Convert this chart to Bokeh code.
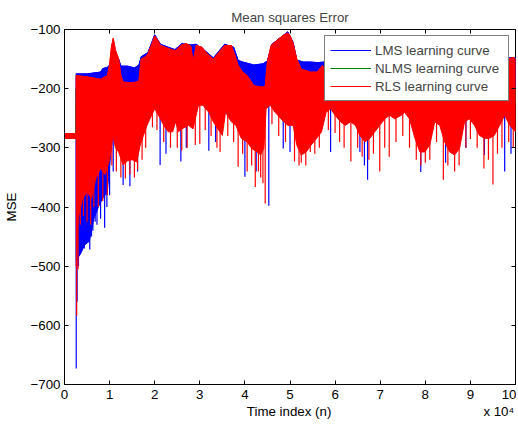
from bokeh.plotting import figure
from bokeh.models import Range1d, FixedTicker, LinearAxis, CustomJSTickFormatter
from bokeh.embed import file_html
from bokeh.resources import INLINE

FONT = "Liberation Sans"
FS = "13.3px"

title_text = "Mean squares Error"
x_label = "Time index (n)"
x_multiplier = "x 10\u2074"
y_label = "MSE"
x_ticks = [0, 1, 2, 3, 4, 5, 6, 7, 8, 9, 10]
y_ticks = [-700, -600, -500, -400, -300, -200, -100]
names = ["LMS learning curve", "NLMS learning curve", "RLS learning curve"]
colors = ["#0000ff", "#008000", "#ff0000"]

# time index in units of 1e4; warm-up part before adaptation starts
pre_x = [0.0, 0.26]
pre_hi = [-276, -276]
pre_lo = [-284, -284]

# ---- RLS envelope ----
rls_hi_x = [0.26, 0.5, 0.8, 0.95, 1.0, 1.04, 1.08, 1.13, 1.2, 1.25, 1.3, 1.5, 1.65, 1.7, 1.8, 1.85,
            1.95, 2.0, 2.05, 2.13, 2.3, 2.45, 2.6, 2.7, 2.8, 2.85, 2.92, 3.05, 3.15, 3.3, 3.45, 3.55,
            3.7, 3.78, 3.85, 3.95, 4.05, 4.2, 4.35, 4.45, 4.5, 4.58, 4.7, 4.85, 4.95, 5.0, 5.07, 5.15,
            5.25, 5.45, 5.6, 5.72, 5.8, 6.5, 7.5, 8.5, 9.5, 9.85, 9.95, 10.0]
rls_hi_y = [-178, -180, -184, -178, -160, -130, -115, -135, -150, -178, -189, -190, -188, -150, -146, -141,
            -122, -111, -116, -127, -132, -136, -126, -124, -128, -155, -127, -130, -140, -150, -136, -127,
            -127, -144, -161, -172, -178, -195, -197, -197, -155, -127, -119, -110, -106, -110, -124, -150,
            -167, -172, -172, -161, -175, -180, -175, -180, -170, -150, -147, -150]
rls_lo_x = [0.26, 0.3, 0.4, 0.5, 0.6, 0.7, 0.8, 0.9, 1.0, 1.07, 1.13, 1.2, 1.3, 1.4, 1.5, 1.6,
            1.68, 1.75, 1.83, 1.9, 2.0, 2.12, 2.2, 2.3, 2.4, 2.46, 2.53, 2.6, 2.75, 2.85, 2.97, 3.07,
            3.2, 3.3, 3.4, 3.5, 3.57, 3.7, 3.8, 3.92, 4.05, 4.15, 4.27, 4.35, 4.42, 4.47, 4.56, 4.67,
            4.8, 4.95, 5.07, 5.15, 5.25, 5.36, 5.47, 5.59, 5.7, 5.8, 5.9, 6.0, 6.12, 6.23, 6.34, 6.45,
            6.55, 6.66, 6.77, 6.88, 6.99, 7.1, 7.21, 7.32, 7.47, 7.54, 7.65, 7.77, 7.88, 7.99, 8.1, 8.21,
            8.32, 8.43, 8.54, 8.65, 8.76, 8.87, 8.98, 9.09, 9.2, 9.31, 9.42, 9.53, 9.65, 9.76, 9.87, 10.0]
rls_lo_y = [-500, -420, -385, -375, -385, -350, -335, -345, -320, -279, -300, -307, -329, -322, -320, -324,
            -295, -279, -262, -250, -234, -250, -262, -273, -273, -256, -273, -268, -262, -268, -228, -228,
            -240, -256, -268, -279, -240, -256, -262, -284, -290, -301, -307, -312, -301, -234, -228, -240,
            -251, -262, -262, -295, -312, -307, -295, -284, -273, -240, -234, -245, -256, -262, -256, -262,
            -279, -290, -284, -273, -262, -251, -245, -251, -245, -240, -251, -284, -307, -307, -295, -256,
            -262, -290, -307, -312, -301, -256, -251, -262, -279, -284, -284, -279, -262, -245, -262, -273]
rls_spike_x = [0.27, 0.30, 0.35, 0.42, 0.50, 0.58, 0.65, 0.75, 0.85, 0.95, 1.05, 1.15, 1.25, 1.35, 1.45,
               1.55, 1.62, 1.72, 1.80, 1.95, 2.05, 2.20, 2.35, 2.50, 2.60, 2.72, 2.90, 3.00, 3.12, 3.25,
               3.38, 3.45, 3.62, 3.75, 3.85, 3.95, 4.05, 4.15, 4.23, 4.30, 4.35, 4.40, 4.45, 4.60, 4.75,
               4.90, 5.10, 5.20, 5.25, 5.35, 5.45, 5.55, 5.65, 5.85, 6.00, 6.10, 6.20, 6.35, 6.50, 6.60,
               6.75, 6.85, 6.99, 7.10, 7.20, 7.35, 7.50, 7.65, 7.80, 7.90, 8.00, 8.10, 8.25, 8.40, 8.50,
               8.65, 8.75, 8.90, 9.00, 9.15, 9.30, 9.40, 9.50, 9.60, 9.70, 9.85, 9.95]
rls_spike_y = [-584, -505, -430, -415, -425, -430, -400, -400, -390, -380, -330, -340, -350, -352, -345,
               -350, -337, -320, -300, -265, -270, -290, -300, -300, -305, -300, -295, -293, -270, -280,
               -300, -307, -280, -290, -332, -310, -340, -330, -366, -340, -350, -360, -394, -260, -280,
               -290, -323, -330, -325, -330, -307, -310, -300, -270, -275, -290, -300, -323, -300, -315,
               -320, -310, -340, -300, -315, -290, -280, -300, -320, -330, -325, -320, -290, -354, -330,
               -340, -330, -300, -285, -300, -335, -320, -362, -310, -300, -290, -300]

# ---- LMS envelope ----
lms_hi_x = [0.26, 0.5, 0.8, 0.85, 0.95, 1.0, 1.08, 1.2, 1.25, 1.4, 1.55, 1.65, 1.7, 1.85, 2.0, 2.13,
            2.3, 2.45, 2.6, 2.8, 2.92, 3.15, 3.3, 3.55, 3.75, 3.85, 3.95, 4.2, 4.4, 4.5, 4.6, 4.95,
            5.07, 5.15, 5.3, 5.45, 5.62, 5.75, 6.5, 7.5, 8.5, 9.5, 9.85, 10.0]
lms_hi_y = [-175, -175, -172, -166, -164, -160, -140, -150, -162, -162, -165, -160, -146, -139, -109, -125,
            -130, -134, -124, -126, -125, -138, -148, -125, -130, -152, -155, -160, -158, -153, -125, -104,
            -122, -152, -155, -155, -156, -155, -175, -172, -175, -168, -148, -148]
lms_lo_x = [0.26, 0.35, 0.45, 0.55, 0.65, 0.75, 0.85, 0.95, 1.0, 1.08, 1.2, 2.0, 3.0, 4.0, 5.0, 6.0,
            7.0, 8.0, 9.0, 10.0]
lms_lo_y = [-490, -480, -464, -458, -420, -400, -385, -375, -330, -270, -224, -222, -224, -223, -222, -224,
            -222, -224, -223, -222]
lms_spike_x = [0.26, 0.28, 0.31, 0.33, 0.37, 0.40, 0.44, 0.47, 0.52, 0.56, 0.60, 0.63, 0.68, 0.72, 0.80,
               0.89, 0.94, 1.0, 1.08, 1.3, 1.45, 1.62, 2.12, 2.25, 2.58, 2.7, 3.2, 3.35, 4.0, 4.25,
               4.53, 4.85, 5.0, 5.3, 5.9, 6.55, 6.65, 6.72, 7.9, 8.15, 8.45, 8.9, 9.31, 9.76, 9.9]
lms_spike_y = [-673, -560, -500, -480, -465, -447, -470, -460, -440, -472, -450, -440, -425, -430, -420,
               -435, -400, -380, -340, -363, -365, -340, -329, -310, -323, -300, -305, -290, -349, -340,
               -398, -301, -307, -300, -307, -307, -330, -354, -341, -270, -325, -300, -312, -340, -310]

# ---- NLMS envelope (lies inside the RLS band) ----
nlms_x = [0.26, 2.0, 4.0, 6.0, 8.0, 10.0]
nlms_hi = [-200, -199, -201, -200, -202, -200]
nlms_lo = [-222, -220, -224, -221, -223, -222]

p = figure(width=516, height=427, output_backend="svg", toolbar_location=None,
           x_range=Range1d(0, 10), y_range=Range1d(-700, -100),
           min_border_left=64, min_border_right=1, min_border_top=29, min_border_bottom=43)
p.title.text = title_text
p.title.text_font = FONT
p.title.text_font_size = FS
p.title.text_font_style = "normal"
p.title.align = "center"
p.title.standoff = 9
p.grid.visible = False
p.outline_line_color = "black"
p.outline_line_width = 1
p.background_fill_color = "white"
p.border_fill_color = "white"

for ax in [p.xaxis[0], p.yaxis[0]]:
    ax.major_label_text_font = FONT
    ax.major_label_text_font_size = FS
    ax.major_label_text_color = "black"
    ax.axis_label_text_font = FONT
    ax.axis_label_text_font_size = FS
    ax.axis_label_text_font_style = "normal"
    ax.axis_label_text_color = "black"
    ax.major_tick_in = 4
    ax.major_tick_out = 0
    ax.minor_tick_line_color = None
    ax.axis_line_color = "black"
    ax.major_tick_line_color = "black"
p.xaxis[0].ticker = FixedTicker(ticks=x_ticks)
p.yaxis[0].ticker = FixedTicker(ticks=y_ticks)
p.yaxis[0].axis_label = y_label
p.xaxis[0].major_label_standoff = 5
p.yaxis[0].major_label_standoff = 4
p.yaxis[0].axis_label_standoff = 9

# second row under the x axis: the axis title and the "x 10^4" multiplier
label_pos = [4.98, 9.63]
title_ax = LinearAxis(ticker=FixedTicker(ticks=label_pos),
                      major_label_overrides={label_pos[0]: x_label, label_pos[1]: x_multiplier},
                      major_label_text_font=FONT, major_label_text_font_size=FS,
                      major_label_text_color="black", major_label_standoff=2,
                      major_tick_line_color=None, minor_tick_line_color=None,
                      axis_line_color=None, major_tick_in=0, major_tick_out=0)
p.add_layout(title_ax, "below")

blank = CustomJSTickFormatter(code="return ''")
top_ax = LinearAxis(ticker=FixedTicker(ticks=x_ticks), formatter=blank,
                    major_label_text_font_size="1px", major_label_text_color=None,
                    major_label_standoff=0, major_tick_in=4, major_tick_out=0,
                    minor_tick_line_color=None, axis_line_color=None)
right_ax = LinearAxis(ticker=FixedTicker(ticks=y_ticks), formatter=blank,
                      major_label_text_font_size="1px", major_label_text_color=None,
                      major_label_standoff=0, major_tick_in=4, major_tick_out=0,
                      minor_tick_line_color=None, axis_line_color=None)
p.add_layout(top_ax, "above")
p.add_layout(right_ax, "right")


def band(hx, hy, lx, ly):
    xs = pre_x + hx + lx[::-1] + pre_x[::-1]
    ys = pre_hi + hy + ly[::-1] + pre_lo[::-1]
    return xs, ys


# LMS
xs, ys = band(lms_hi_x, lms_hi_y, lms_lo_x, lms_lo_y)
p.patch(xs, ys, fill_color=colors[0], line_color=colors[0], line_width=1)
p.segment(x0=lms_spike_x, y0=[-200] * len(lms_spike_x), x1=lms_spike_x, y1=lms_spike_y,
          line_color=colors[0], line_width=1.2)
p.line(pre_x + lms_hi_x, pre_hi + lms_hi_y, line_color=colors[0], line_width=1,
       legend_label=names[0])
# NLMS
xs, ys = band(nlms_x, nlms_hi, nlms_x, nlms_lo)
p.patch(xs, ys, fill_color=colors[1], line_color=colors[1], line_width=1)
p.line(pre_x + nlms_x, pre_hi + nlms_hi, line_color=colors[1], line_width=1,
       legend_label=names[1])
# RLS
xs, ys = band(rls_hi_x, rls_hi_y, rls_lo_x, rls_lo_y)
p.patch(xs, ys, fill_color=colors[2], line_color=colors[2], line_width=1)
p.segment(x0=rls_spike_x, y0=[-200] * len(rls_spike_x), x1=rls_spike_x, y1=rls_spike_y,
          line_color=colors[2], line_width=1.2)
p.line(pre_x + rls_hi_x, pre_hi + rls_hi_y, line_color=colors[2], line_width=1,
       legend_label=names[2])

lg = p.legend[0]
lg.location = "top_right"
lg.margin = 6
lg.padding = 5
lg.spacing = 0
lg.glyph_width = 41
lg.glyph_height = 18
lg.label_height = 18
lg.label_width = 128
lg.label_standoff = 4
lg.label_text_font = FONT
lg.label_text_font_size = FS
lg.border_line_color = "black"
lg.border_line_width = 1
lg.background_fill_color = "white"
lg.background_fill_alpha = 1

open("out.html", "w").write(file_html(p, INLINE))
